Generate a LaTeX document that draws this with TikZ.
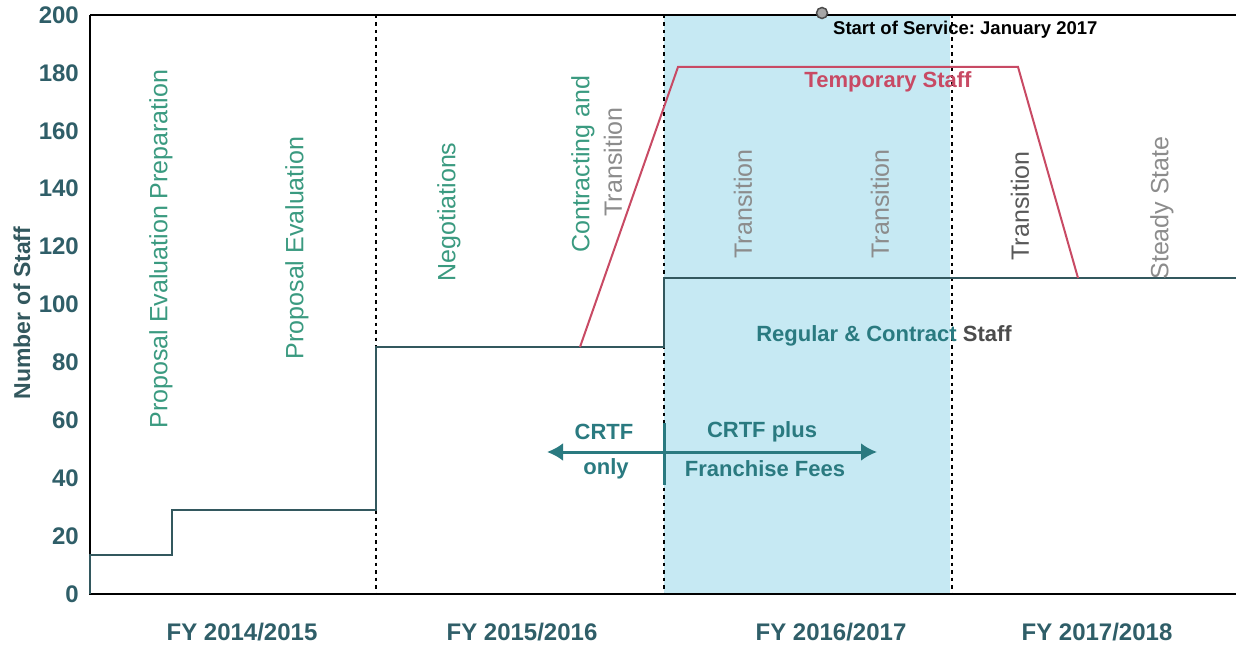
\documentclass[tikz,border=0pt]{standalone}
\usepackage{fontspec}
\setmainfont{Liberation Sans}
\usetikzlibrary{arrows.meta}
\frenchspacing

\definecolor{axisteal}{HTML}{2F5E68}
\definecolor{phasegreen}{HTML}{3A9A80}
\definecolor{phasegray}{HTML}{8C8C8C}
\definecolor{servblue}{HTML}{C6E9F3}
\definecolor{tempred}{HTML}{C84A64}
\definecolor{regteal}{HTML}{2A7A80}
\definecolor{staffline}{HTML}{33585E}

\tikzset{
  ticklabel/.style={anchor=east, inner sep=0pt, text=axisteal,
    font=\fontsize{24}{26}\selectfont\bfseries},
  fylabel/.style={inner sep=0pt, text=axisteal,
    font=\fontsize{24}{27}\selectfont\bfseries},
  phase/.style={rotate=90, inner sep=0pt, text=phasegreen,
    font=\fontsize{25}{28}\selectfont},
  phasegrey/.style={phase, text=phasegray},
  fundlabel/.style={inner sep=0pt, text=regteal,
    font=\fontsize{22}{25}\selectfont\bfseries},
  phaseline/.style={line width=2.8pt, dash pattern=on 3.5pt off 4pt}
}

\begin{document}
\begin{tikzpicture}[x=1pt, y=-1pt]
      \useasboundingbox (0,0) rectangle (1236,647);

      % Shaded service year
      \fill[servblue] (664,15) rectangle (950,594);

      % Draw axes
      \draw[line width=2pt] (90,15) -- (1236,15);
      \draw[line width=2.5pt] (90,15) -- (90,594) -- (1236,594);
      \foreach \v in {0,20,...,200}
        \node[ticklabel] at (79,{594-2.895*\v}) {\v};
      \node[rotate=90, inner sep=0pt, text=staffline,
        font=\fontsize{23}{26}\selectfont\bfseries] (ylab) at (22,313) {Number of Staff};

      % Phase boundaries
      \draw[phaseline] (376,15) -- (376,594);
      \draw[phaseline] (664,15) -- (664,594);
      \draw[phaseline] (952,15) -- (952,594);

      % Regular and contract staff
      \draw[staffline, line width=2pt]
      (90,594) --
      (90,555) --
      (172,555) --
      (172,510) --
      (376,510) --
      (376,347) --
      (664,347) --
      (664,278) --
      (1236,278);

      % Temporary staff
      \draw[tempred, line width=2pt]
      (580,347) --
      (678,67) --
      (1018,67) --
      (1078,278);

      % Phase labels
      \node[phase] (prep) at (161,249) {Proposal Evaluation Preparation};
      \node[phase] (eval) at (297,248) {Proposal Evaluation};
      \node[phase] (nego) at (449,212) {Negotiations};
      \node[phase] (contr) at (583,164) {Contracting and};
      \node[phasegrey] (trans0) at (613,162) {Transition};
      \node[phasegrey] (trans1) at (743,204) {Transition};
      \node[phasegrey] (trans2) at (880,204) {Transition};
      \node[phasegrey, text=black!65] (trans3) at (1020,206) {Transition};
      \node[phasegrey] (steady) at (1162,208) {Steady State};

      % Series and milestone labels
      \node[inner sep=0pt, text=tempred, font=\fontsize{22}{25}\selectfont\bfseries]
        (temp) at (888,82) {Temporary Staff};
      \node[fundlabel] (reg) at (884,336) {Regular \& Contract \textcolor{black!70}{Staff}};
      \node[circle, draw=black!70, fill=black!35, line width=1.5pt,
        minimum size=11pt, inner sep=0pt] (icon) at (822,13) {};
      \node[anchor=west, inner sep=0pt, font=\fontsize{18.5}{21}\selectfont\bfseries]
        (start) at (833,30) {Start of Service: January 2017};

      % Funding arrows
      \coordinate (split) at (664,452);
      \coordinate (lefttip) at (547,452);
      \coordinate (righttip) at (877,452);
      \draw[regteal, line width=3pt] (664,423) -- (664,485);
      \draw[regteal, line width=3pt, -{Latex[length=16pt,width=18pt]}] (split) -- (lefttip);
      \draw[regteal, line width=3pt, -{Latex[length=16pt,width=18pt]}] (split) -- (righttip);
      \node[fundlabel] (crtf) at (604,432) {CRTF};
      \node[fundlabel] (only) at (606,469) {only};
      \node[fundlabel] (plus) at (762,432) {CRTF plus};
      \node[fundlabel] (fees) at (765,469) {Franchise Fees};

      % Fiscal years
      \node[fylabel] (fy1) at (242,632) {FY 2014/2015};
      \node[fylabel] (fy2) at (522,632) {FY 2015/2016};
      \node[fylabel] (fy3) at (831,632) {FY 2016/2017};
      \node[fylabel] (fy4) at (1097,632) {FY 2017/2018};
    \end{tikzpicture}
\end{document}
